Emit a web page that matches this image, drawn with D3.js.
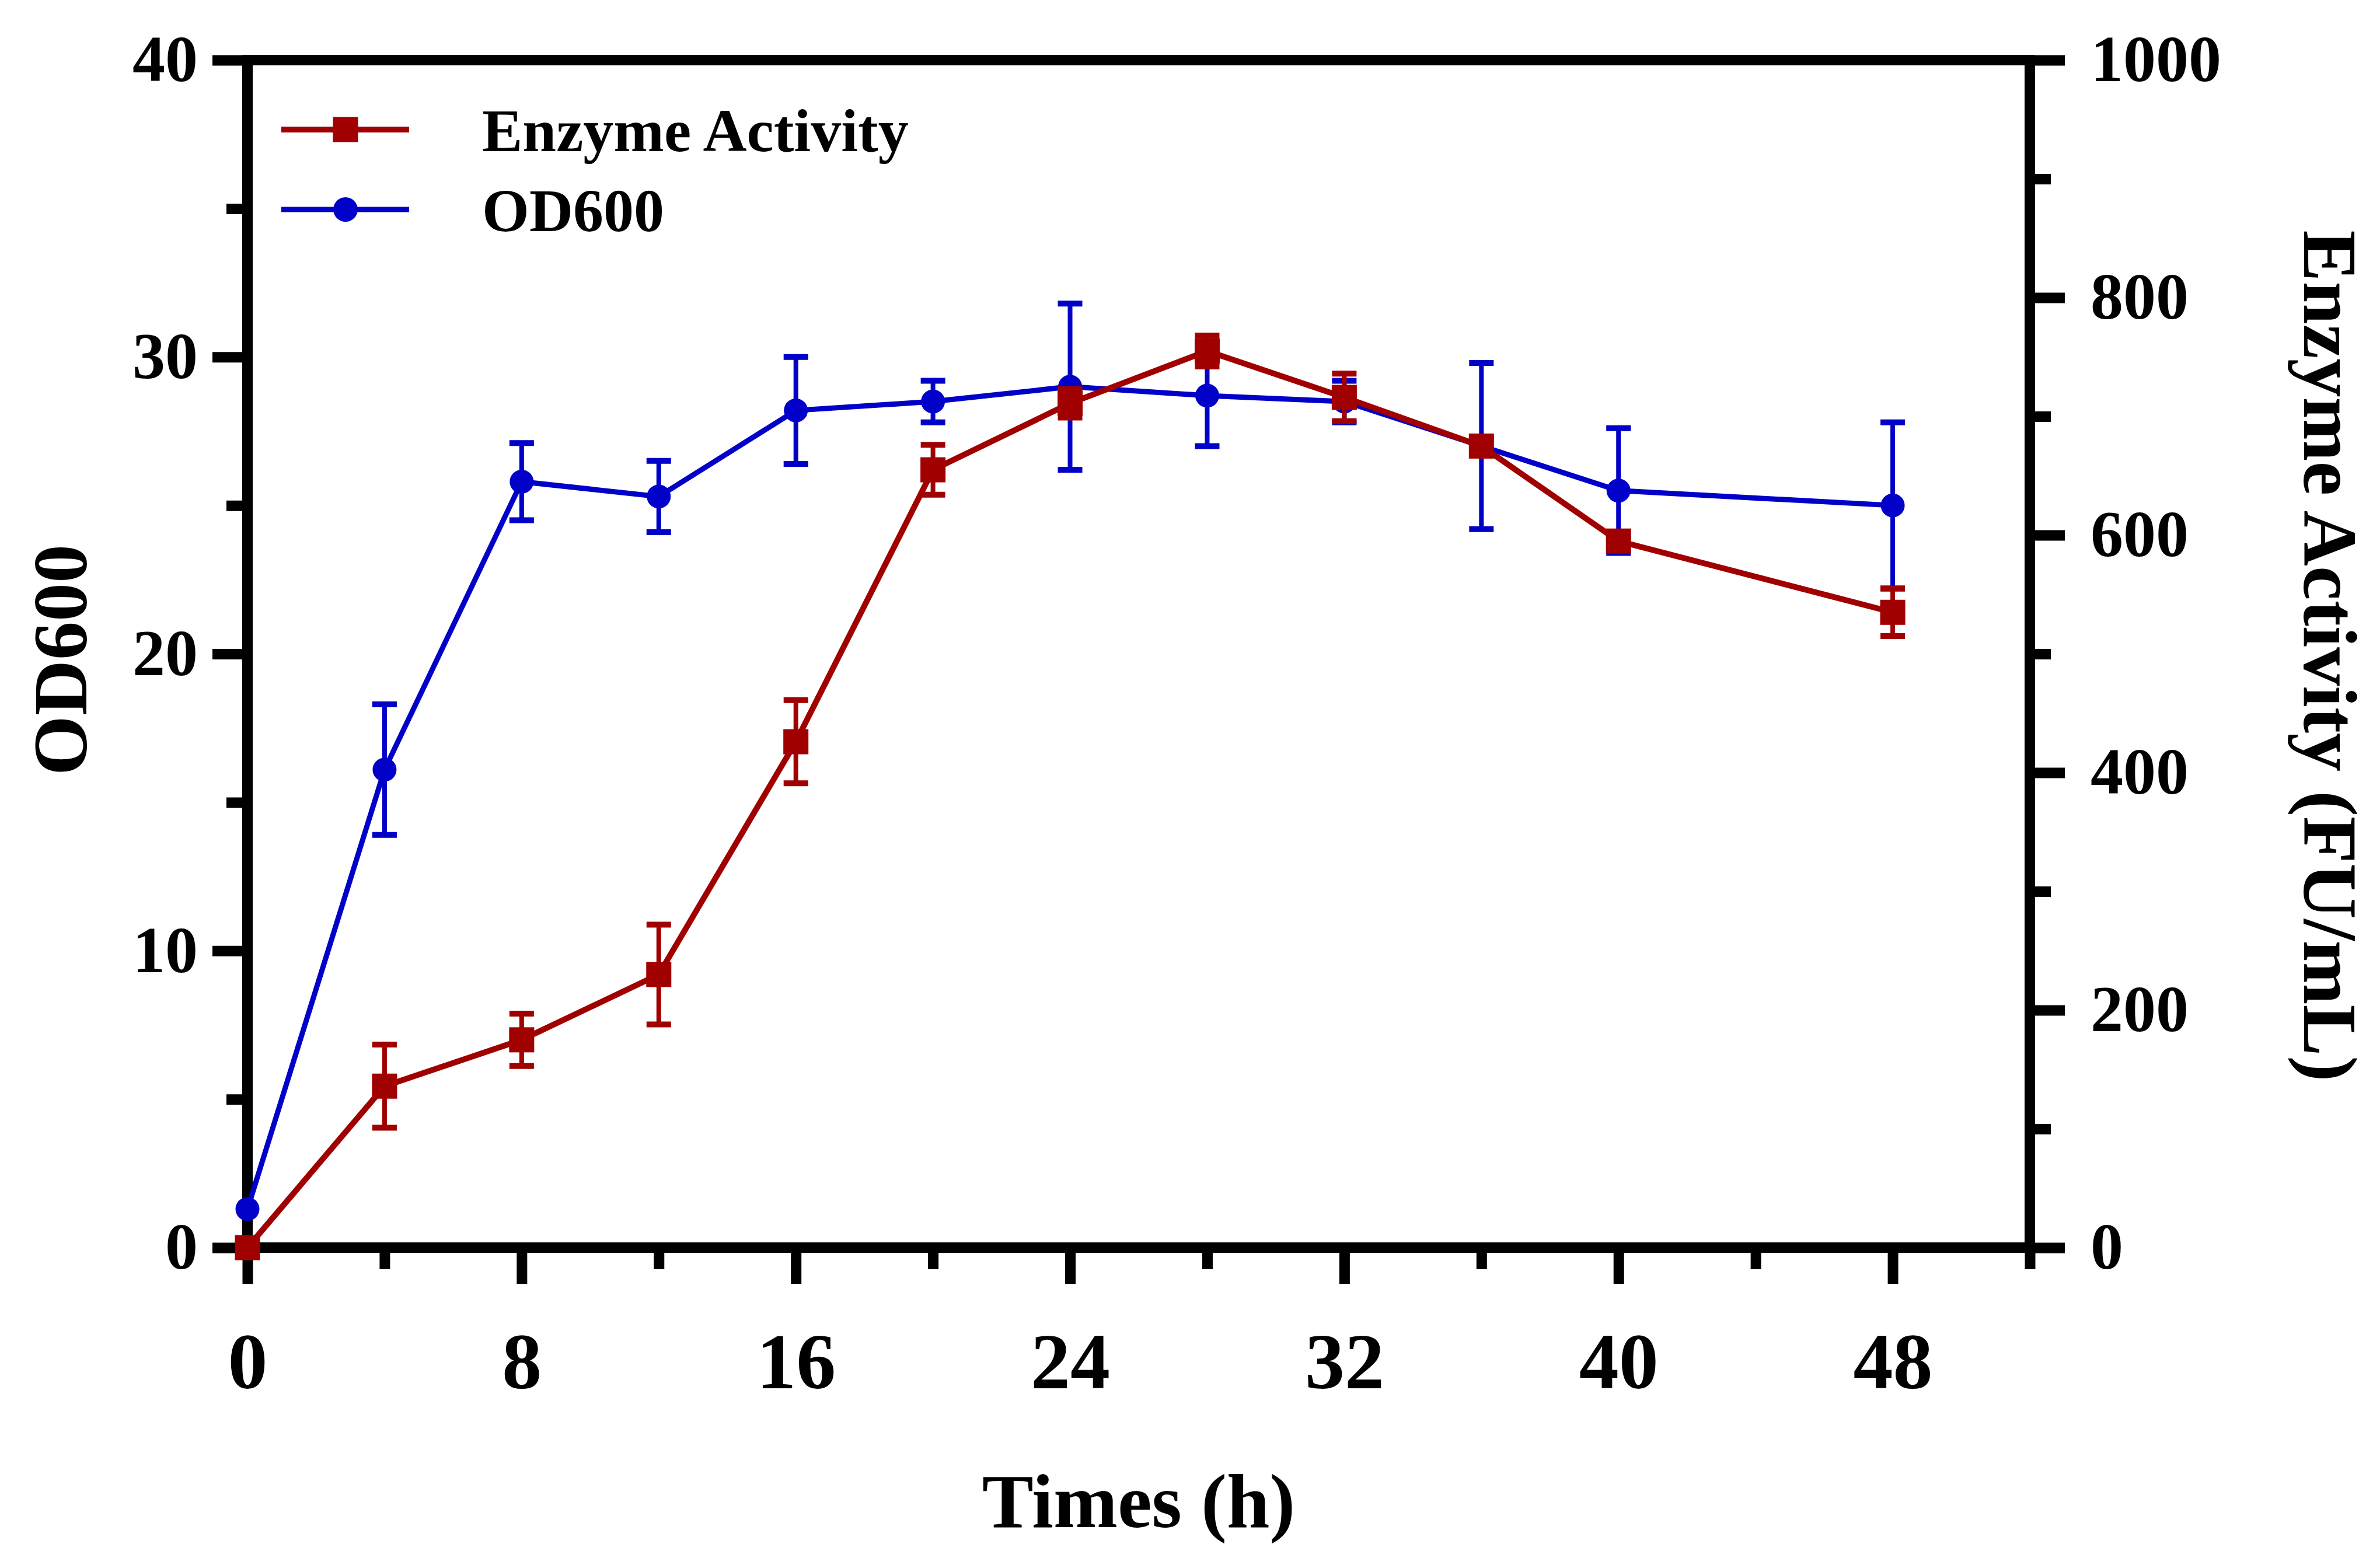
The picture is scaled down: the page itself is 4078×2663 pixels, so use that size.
<!DOCTYPE html>
<html>
<head>
<meta charset="utf-8">
<script src="https://cdn.jsdelivr.net/npm/d3@7"></script>
<style>
  html, body { margin: 0; padding: 0; background: #ffffff; }
  svg { display: block; }
</style>
</head>
<body>
<script>
// ---- data ----
const times = [0, 4, 8, 12, 16, 20, 24, 28, 32, 36, 40, 48];
const od600 = [1.3, 16.1, 25.8, 25.3, 28.2, 28.5, 29.0, 28.7, 28.5, 27.0, 25.5, 25.0];
const od600Err = [0, 2.2, 1.3, 1.2, 1.8, 0.7, 2.8, 1.7, 0.7, 2.8, 2.1, 2.8];
const enzyme = [0, 136, 175, 230, 426, 655, 711, 755, 716, 675, 595, 535];
const enzymeErr = [0, 35, 22, 42, 35, 21, 12, 13, 20, 5, 5, 20];
const xMajorTicks = [0, 8, 16, 24, 32, 40, 48];
const xMinorTicks = [4, 12, 20, 28, 36, 44, 52];
const yLeftMajor = [0, 10, 20, 30, 40];
const yLeftMinor = [5, 15, 25, 35];
const yRightMajor = [0, 200, 400, 600, 800, 1000];
const yRightMinor = [100, 300, 500, 700, 900];
const seriesNames = ["Enzyme Activity", "OD600"];
const xTitle = "Times (h)";
const yLeftTitle = "OD600";
const yRightTitle = "Enzyme Activity (FU/mL)";

const W = 4078, H = 2663;
const L = 424, R = 3478, T = 103, B = 2138;
const RED = "#a00000", BLUE = "#0000c8";
const FONT = "'Liberation Serif', 'Times New Roman', serif";
const AXW = 18;

const svg = d3.select("body").append("svg").attr("width", W).attr("height", H)
  .style("font-family", FONT);

const x = d3.scaleLinear().domain([0, 52]).range([L, R]);
const yL = d3.scaleLinear().domain([0, 40]).range([B, T]);
const yR = d3.scaleLinear().domain([0, 1000]).range([B, T]);

function styleAxis(g, fontSize) {
  g.select(".domain").remove();
  g.selectAll(".tick line").attr("stroke", "#000").attr("stroke-width", AXW);
  g.selectAll(".tick text").attr("fill", "#000").attr("font-size", fontSize)
    .attr("font-weight", "bold").attr("font-family", FONT);
}

// bottom axis
const gxMaj = svg.append("g").attr("transform", `translate(0,${B})`)
  .call(d3.axisBottom(x).tickValues(xMajorTicks).tickSize(62).tickPadding(82).tickFormat(d3.format("d")));
styleAxis(gxMaj, 136);
const gxMin = svg.append("g").attr("transform", `translate(0,${B})`)
  .call(d3.axisBottom(x).tickValues(xMinorTicks).tickSize(37).tickFormat(""));
styleAxis(gxMin, 0);

// left axis
const gyMaj = svg.append("g").attr("transform", `translate(${L},0)`)
  .call(d3.axisLeft(yL).tickValues(yLeftMajor).tickSize(60).tickPadding(25).tickFormat(d3.format("d")));
styleAxis(gyMaj, 112);
const gyMin = svg.append("g").attr("transform", `translate(${L},0)`)
  .call(d3.axisLeft(yL).tickValues(yLeftMinor).tickSize(36).tickFormat(""));
styleAxis(gyMin, 0);

// right axis
const gyrMaj = svg.append("g").attr("transform", `translate(${R},0)`)
  .call(d3.axisRight(yR).tickValues(yRightMajor).tickSize(60).tickPadding(44).tickFormat(d3.format("d")));
styleAxis(gyrMaj, 112);
const gyrMin = svg.append("g").attr("transform", `translate(${R},0)`)
  .call(d3.axisRight(yR).tickValues(yRightMinor).tickSize(36).tickFormat(""));
styleAxis(gyrMin, 0);

// frame
svg.append("rect").attr("x", L).attr("y", T).attr("width", R - L).attr("height", B - T)
  .attr("fill", "none").attr("stroke", "#000").attr("stroke-width", AXW);

// series drawing
function drawSeries(vals, errs, yScale, color, shape, lineW) {
  const data = times.map((t, i) => ({ t, v: vals[i], e: errs[i] }));
  const g = svg.append("g");
  const eb = g.selectAll(".eb").data(data.filter(d => d.e > 0)).enter().append("g");
  eb.append("line").attr("x1", d => x(d.t)).attr("x2", d => x(d.t))
    .attr("y1", d => yScale(d.v - d.e)).attr("y2", d => yScale(d.v + d.e))
    .attr("stroke", color).attr("stroke-width", 8);
  [1, -1].forEach(s => {
    eb.append("line").attr("x1", d => x(d.t) - 21).attr("x2", d => x(d.t) + 21)
      .attr("y1", d => yScale(d.v + s * d.e)).attr("y2", d => yScale(d.v + s * d.e))
      .attr("stroke", color).attr("stroke-width", 10);
  });
  g.append("path").datum(data)
    .attr("d", d3.line().x(d => x(d.t)).y(d => yScale(d.v)))
    .attr("fill", "none").attr("stroke", color).attr("stroke-width", lineW);
  if (shape === "square") {
    g.selectAll(".m").data(data).enter().append("rect")
      .attr("x", d => x(d.t) - 21.5).attr("y", d => yScale(d.v) - 21.5)
      .attr("width", 43).attr("height", 43).attr("fill", color);
  } else {
    g.selectAll(".m").data(data).enter().append("circle")
      .attr("cx", d => x(d.t)).attr("cy", d => yScale(d.v)).attr("r", 20.5).attr("fill", color);
  }
}
drawSeries(od600, od600Err, yL, BLUE, "circle", 9);
drawSeries(enzyme, enzymeErr, yR, RED, "square", 10);

// legend
const legend = svg.append("g");
const legItems = [
  { name: seriesNames[0], color: RED, shape: "square", y: 222, w: 10 },
  { name: seriesNames[1], color: BLUE, shape: "circle", y: 359, w: 9 }
];
legItems.forEach(it => {
  legend.append("line").attr("x1", 482).attr("x2", 701).attr("y1", it.y).attr("y2", it.y)
    .attr("stroke", it.color).attr("stroke-width", it.w);
  if (it.shape === "square") {
    legend.append("rect").attr("x", 592 - 21.5).attr("y", it.y - 21.5).attr("width", 43).attr("height", 43).attr("fill", it.color);
  } else {
    legend.append("circle").attr("cx", 592).attr("cy", it.y).attr("r", 21).attr("fill", it.color);
  }
  legend.append("text").attr("x", 826).attr("y", it.y + 37).text(it.name)
    .attr("font-size", 104).attr("font-weight", "bold").attr("fill", "#000");
});

// axis titles
svg.append("text").attr("x", 1951).attr("y", 2617).attr("text-anchor", "middle")
  .attr("font-size", 132).attr("font-weight", "bold").text(xTitle);
svg.append("text").attr("transform", `translate(148,1131) rotate(-90)`).attr("text-anchor", "middle")
  .attr("font-size", 132).attr("font-weight", "bold").text(yLeftTitle);
svg.append("text").attr("transform", `translate(3948,1124) rotate(90)`).attr("text-anchor", "middle")
  .attr("font-size", 132).attr("font-weight", "bold").text(yRightTitle);
</script>
</body>
</html>
